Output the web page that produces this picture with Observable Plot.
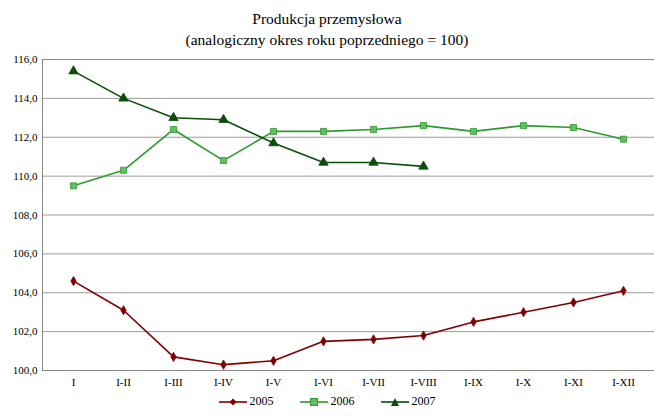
<!DOCTYPE html>
<html><head><meta charset="utf-8">
<script src="https://cdn.jsdelivr.net/npm/d3@7"></script>
<script src="https://cdn.jsdelivr.net/npm/@observablehq/plot@0.6"></script>
<style>
body{margin:0;background:#fff;font-family:"Liberation Serif","DejaVu Serif",serif;}
#title{text-align:center;font-size:15.5px;line-height:21px;padding-top:8px;height:42px;color:#000;}
#legend{display:flex;justify-content:center;gap:26px;font-size:12px;margin-top:4px;}
#legend span{display:flex;align-items:center;gap:3px;}
</style></head>
<body>
<div id="title">Produkcja przemysłowa<br>(analogiczny okres roku poprzedniego = 100)</div>
<div id="chart"></div>
<div id="legend"></div>
<script>
const months = ["I","I-II","I-III","I-IV","I-V","I-VI","I-VII","I-VIII","I-IX","I-X","I-XI","I-XII"];
const v2005 = [104.6,103.1,100.7,100.3,100.5,101.5,101.6,101.8,102.5,103.0,103.5,104.1];
const v2006 = [109.5,110.3,112.4,110.8,112.3,112.3,112.4,112.6,112.3,112.6,112.5,111.9];
const v2007 = [115.4,114.0,113.0,112.9,111.7,110.7,110.7,110.5];
const yTicks = [100,102,104,106,108,110,112,114,116];

const series = [
  {name:"2005", values:v2005, color:"#800000", symbol:"diamond", fill:"#800000", r:2.8},
  {name:"2006", values:v2006, color:"#2e9a2e", symbol:"square", fill:"#66bb66", r:3.4},
  {name:"2007", values:v2007, color:"#0b4d0b", symbol:"triangle", fill:"#0b4d0b", r:3.5}
];
const rows = series.flatMap(s => s.values.map((v,i) => ({year:s.name, m:months[i], v})));

const marks = [
  Plot.gridY(yTicks, {stroke:"#999", strokeOpacity:1}),
  Plot.frame({stroke:"#888"})
];
for (const s of series) {
  const d = rows.filter(r => r.year === s.name);
  marks.push(Plot.line(d, {x:"m", y:"v", stroke:s.color, strokeWidth:1.6}));
  marks.push(Plot.dot(d, {x:"m", y:"v", symbol:()=>s.symbol, fill:s.fill, stroke:s.color, strokeWidth:0.8, r:s.r}));
}

const chart = Plot.plot({
  width:654, height:340,
  marginLeft:42, marginRight:0, marginTop:9, marginBottom:20,
  style:{fontFamily:"Liberation Serif, DejaVu Serif, serif", fontSize:"11px", color:"#000"},
  x:{type:"point", domain:months, padding:0.6, label:null, tickSize:0, tickPadding:8},
  y:{domain:[100,116], ticks:yTicks, tickFormat:d=>d.toFixed(1).replace(".",","), label:null, tickSize:0, tickPadding:5},
  marks
});
document.getElementById("chart").append(chart);

const leg = document.getElementById("legend");
for (const s of series) {
  const sp = document.createElement("span");
  const sym = s.symbol==="diamond" ? `<path d="M14,2.5 L17.5,6 L14,9.5 L10.5,6Z" fill="${s.fill}"/>`
    : s.symbol==="square" ? `<rect x="10.5" y="2.5" width="7" height="7" fill="${s.fill}" stroke="${s.color}"/>`
    : `<path d="M14,2 L18,10 L10,10Z" fill="${s.fill}"/>`;
  sp.innerHTML = `<svg width="28" height="12"><line x1="0" x2="28" y1="6" y2="6" stroke="${s.color}" stroke-width="1.6"/>${sym}</svg>${s.name}`;
  leg.append(sp);
}
</script>
</body></html>
